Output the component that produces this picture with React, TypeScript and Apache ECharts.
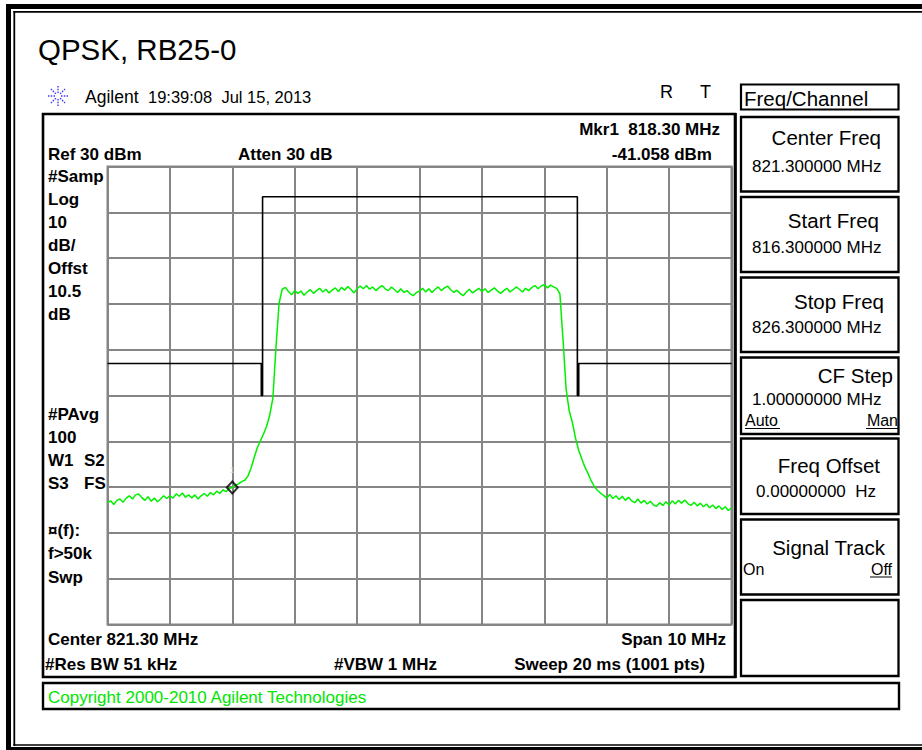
import React, { useEffect, useRef } from "react";
import * as echarts from "echarts";

// ---- sweep / axis settings ----
const START_FREQ = 816.3; // MHz
const STOP_FREQ = 826.3; // MHz
const FREQ_STEP = 0.05; // MHz between trace samples
const REF_LEVEL = 30; // dBm (top of screen)
const BOTTOM_LEVEL = -70; // dBm (bottom of screen)
const DB_PER_DIV = 10;
const MHZ_PER_DIV = 1;

// ---- measured trace (dBm), one value every FREQ_STEP from START_FREQ ----
const TRACE_DBM = [
  -43.4, -43.0, -43.8, -42.9, -42.6, -43.3, -42.4, -41.9, -42.6, -41.7,
  -41.5, -42.3, -42.9, -42.1, -43.1, -42.4, -43.2, -42.6, -41.9, -42.5,
  -41.9, -42.4, -41.5, -42.0, -41.3, -42.2, -41.7, -42.4, -41.7, -42.6,
  -41.9, -41.4, -42.0, -41.2, -41.7, -40.9, -41.4, -40.6, -41.0, -40.3,
  -40.1, -39.6, -39.3, -38.8, -38.5, -37.6, -35.9, -33.6, -31.4, -29.9,
  -28.4, -26.7, -24.3, -20.6, -9.5, 0.2, 3.2, 3.6, 2.7, 2.0,
  2.9, 2.3, 2.8, 1.9, 2.6, 3.1, 2.3, 2.9, 3.4, 2.6,
  3.2, 2.4, 3.0, 3.5, 2.7, 3.6, 3.0, 3.8, 3.2, 2.4,
  3.3, 3.9, 3.3, 4.0, 3.2, 3.7, 2.9, 3.5, 4.0, 3.3,
  2.9, 3.7, 3.1, 2.5, 3.3, 2.5, 2.9, 2.2, 1.8, 2.5,
  2.8, 3.4, 2.6, 3.3, 2.5, 3.2, 3.7, 2.9, 3.5, 3.9,
  3.1, 2.5, 3.0, 2.3, 1.8, 2.6, 3.2, 2.4, 2.9, 3.4,
  2.7, 3.3, 2.5, 3.0, 3.5, 2.8, 2.3, 2.9, 3.4, 2.6,
  3.1, 3.7, 3.2, 2.6, 3.4, 2.9, 3.6, 4.0, 3.3, 3.9,
  4.2, 3.5, 4.1, 3.7, 3.4, 2.2, -7.8, -18.6, -23.4, -25.9,
  -29.3, -31.9, -33.8, -35.6, -37.0, -38.6, -39.8, -40.7, -41.3, -41.8,
  -42.4, -41.6, -42.5, -41.9, -42.7, -42.0, -42.9, -42.2, -43.0, -43.4,
  -42.6, -43.5, -42.9, -43.7, -43.1, -43.9, -44.2, -43.4, -44.0, -43.2,
  -43.9, -43.0, -43.7, -42.9, -43.5, -42.8, -43.6, -44.0, -43.3, -44.1,
  -43.5, -44.3, -43.7, -44.5, -43.9, -44.7, -44.1, -44.9, -44.3, -45.1,
  -44.5,
];

// ---- limit mask (black line) ----
const MASK_FREQ = [816.3, 818.765, 818.765, 818.785, 818.785, 823.83, 823.83, 823.852, 823.852, 826.3];
const MASK_DBM = [-13, -13, -20, -20, 23.4, 23.4, -20, -20, -13, -13];

// ---- marker ----
const MARKER_FREQ = 818.3;
const MARKER_LABEL = "1";

// ---- annotation texts ----
const TITLE = "QPSK, RB25-0";
const HEADER_BRAND = "Agilent";
const HEADER_TIME = "19:39:08\u00a0\u00a0Jul 15, 2013";
const MARKER_READOUT = ["Mkr1\u00a0\u00a0818.30 MHz", "-41.058 dBm"];
const LEFT_LABELS = ["#Samp", "Log", "10", "dB/", "Offst", "10.5", "dB"];
const LEFT_LABELS_2 = ["#PAvg", "100", "W1", "S3"];
const LEFT_LABELS_2B = ["S2", "FS"];
const LEFT_LABELS_3 = ["\u00a4(f):", "f>50k", "Swp"];
const SOFTKEY_LABELS = ["Center Freq", "Start Freq", "Stop Freq", "CF Step", "Freq Offset", "Signal Track", ""];
const SOFTKEY_VALUES = ["821.300000 MHz", "816.300000 MHz", "826.300000 MHz", "1.00000000 MHz", "0.00000000\u00a0\u00a0Hz", "", ""];

const FONT = '"Liberation Sans", Arial, Helvetica, sans-serif';

function txt(text: string, x: number, baseline: number, size: number, opts: any = {}) {
  const align = opts.align || "left";
  return {
    type: "text",
    x,
    y: baseline - 0.35 * size,
    silent: true,
    z: 20,
    style: {
      text,
      font: `${opts.bold ? "bold " : ""}${size}px ${FONT}`,
      fill: opts.color || "#000",
      align,
      verticalAlign: "middle",
      textAlign: align,
      textVerticalAlign: "middle",
    },
  };
}

function ln(x1: number, y1: number, x2: number, y2: number, lw: number, color = "#000", dash?: number[]) {
  return {
    type: "line",
    silent: true,
    z: 15,
    shape: { x1, y1, x2, y2 },
    style: { stroke: color, lineWidth: lw, lineDash: dash },
  };
}

function box(x: number, y: number, w: number, h: number, lw: number) {
  return {
    type: "rect",
    silent: true,
    z: 15,
    shape: { x, y, width: w, height: h },
    style: { fill: "none", stroke: "#000", lineWidth: lw },
  };
}

export default function App() {
  const ref = useRef<HTMLDivElement>(null);

  useEffect(() => {
    if (!ref.current) return;
    const chart = echarts.init(ref.current, undefined, { renderer: "svg" });

    const tracePts = TRACE_DBM.map((v, i) => [START_FREQ + i * FREQ_STEP, v]);
    const maskPts = MASK_FREQ.map((f, i) => [f, MASK_DBM[i]]);
    const mIdx = Math.round((MARKER_FREQ - START_FREQ) / FREQ_STEP);
    const markerPt = [MARKER_FREQ, TRACE_DBM[mIdx]];

    const g: any[] = [];
    // outer frame
    g.push(ln(8.5, 4, 8.5, 750, 5));
    g.push(ln(6, 6.5, 922, 6.5, 5));
    g.push(ln(6, 749, 922, 749, 4));
    g.push(ln(14.3, 11, 14.3, 746, 1.8));
    g.push(ln(13.4, 11.8, 922, 11.8, 1.8));
    g.push(ln(13.4, 745, 922, 745, 1.6));

    // title
    g.push(txt(TITLE, 38, 59.5, 29.5));

    // agilent logo (spark)
    const cx = 58, cy = 96;
    for (let k = 0; k < 8; k++) {
      const a = (k * Math.PI) / 4;
      g.push(ln(cx + 3 * Math.cos(a), cy + 3 * Math.sin(a), cx + 10 * Math.cos(a), cy + 10 * Math.sin(a), 1.4, "#3b3bff", [1.5, 1.3]));
    }
    g.push(txt(HEADER_BRAND, 85, 103, 17.5));
    g.push(txt(HEADER_TIME, 148, 103, 16.5));
    g.push(txt("R", 660, 98, 18));
    g.push(txt("T", 700, 98, 18));

    // main screen box
    g.push(box(43, 114, 692, 563, 2.6));
    g.push(ln(735.6, 113, 735.6, 678, 2.4));

    // header readouts
    g.push(txt(MARKER_READOUT[0], 720, 135, 17, { bold: true, align: "right" }));
    g.push(txt(MARKER_READOUT[1], 712, 160, 17, { bold: true, align: "right" }));
    g.push(txt("Ref 30 dBm", 48, 160, 17, { bold: true }));
    g.push(txt("Atten 30 dB", 238, 160, 17, { bold: true }));

    // left annotation column
    LEFT_LABELS.forEach((s, i) => g.push(txt(s, 48, 182 + i * 23, 17, { bold: true })));
    LEFT_LABELS_2.forEach((s, i) => g.push(txt(s, 48, 420 + i * 23, 17, { bold: true })));
    LEFT_LABELS_2B.forEach((s, i) => g.push(txt(s, 84, 466 + i * 23, 17, { bold: true })));
    LEFT_LABELS_3.forEach((s, i) => g.push(txt(s, 48, 536 + i * 23.5, 17, { bold: true })));

    // bottom annotations
    g.push(txt("Center 821.30 MHz", 48, 645, 17, { bold: true }));
    g.push(txt("Span 10 MHz", 726, 645, 17, { bold: true, align: "right" }));
    g.push(txt("#Res BW 51 kHz", 45, 670, 17, { bold: true }));
    g.push(txt("#VBW 1 MHz", 334, 670, 17, { bold: true }));
    g.push(txt("Sweep 20 ms (1001 pts)", 705, 670, 17, { bold: true, align: "right" }));

    // copyright box
    g.push(box(43, 683, 856, 26, 2.4));
    g.push(txt("Copyright 2000-2010 Agilent Technologies", 48, 703, 17, { color: "#00e600" }));

    // softkeys
    g.push(box(741, 84.5, 157.5, 25, 2.2));
    g.push(txt("Freq/Channel", 744, 106, 20.5));
    const tops = [117, 197, 277.5, 357.5, 438.5, 519.5, 600];
    const bots = [191.5, 272, 352, 434, 514, 594.5, 676];
    const labelBase = [145, 228, 309, 383, 473, 555, 0];
    const valueBase = [172, 253, 333, 405, 497, 0, 0];
    const labelRight = [881, 879, 884, 893, 880, 885, 0];
    const valueLeft = [752, 752, 752, 752, 756, 0, 0];
    tops.forEach((t, i) => {
      g.push(box(741, t, 157.5, bots[i] - t, 2.3));
      if (SOFTKEY_LABELS[i]) g.push(txt(SOFTKEY_LABELS[i], labelRight[i], labelBase[i], 20.5, { align: "right" }));
      if (SOFTKEY_VALUES[i]) g.push(txt(SOFTKEY_VALUES[i], valueLeft[i], valueBase[i], 17));
    });
    g.push(txt("Auto", 745, 426, 16));
    g.push(ln(745, 428.5, 780, 428.5, 1));
    g.push(txt("Man", 898, 426, 16, { align: "right" }));
    g.push(ln(866, 428.5, 898, 428.5, 1));
    g.push(txt("On", 743, 575, 16));
    g.push(txt("Off", 892, 575, 16, { align: "right" }));
    g.push(ln(870, 577, 892, 577, 1));

    chart.setOption({
      animation: false,
      backgroundColor: "#ffffff",
      grid: {
        left: 107.5,
        top: 166.5,
        width: 624,
        height: 458,
        show: true,
        borderColor: "#858585",
        borderWidth: 2,
        backgroundColor: "transparent",
      },
      xAxis: {
        type: "value",
        min: START_FREQ,
        max: STOP_FREQ,
        interval: MHZ_PER_DIV,
        axisLabel: { show: false },
        axisTick: { show: false },
        axisLine: { show: false },
        splitLine: { show: true, lineStyle: { color: "#858585", width: 2 } },
      },
      yAxis: {
        type: "value",
        min: BOTTOM_LEVEL,
        max: REF_LEVEL,
        interval: DB_PER_DIV,
        axisLabel: { show: false },
        axisTick: { show: false },
        axisLine: { show: false },
        splitLine: { show: true, lineStyle: { color: "#858585", width: 2 } },
      },
      series: [
        {
          type: "line",
          name: "mask",
          data: maskPts,
          symbol: "none",
          silent: true,
          z: 3,
          lineStyle: { color: "#000", width: 1.6 },
        },
        {
          type: "line",
          name: "trace",
          data: tracePts,
          symbol: "none",
          silent: true,
          z: 4,
          lineStyle: { color: "#00f000", width: 1.5 },
        },
        {
          type: "scatter",
          name: "marker",
          data: [markerPt],
          symbol: "diamond",
          symbolSize: [11, 12],
          silent: true,
          z: 5,
          itemStyle: { color: "rgba(255,255,255,0)", borderColor: "#000", borderWidth: 2 },
          label: {
            show: true,
            formatter: MARKER_LABEL,
            position: "top",
            distance: 6,
            color: "#d4d4d4",
            fontSize: 9,
            fontFamily: FONT,
          },
        },
      ],
      graphic: g,
    });

    return () => chart.dispose();
  }, []);

  return (
    <div
      ref={ref}
      style={{ position: "absolute", left: 0, top: 0, width: 922, height: 750 }}
    />
  );
}
